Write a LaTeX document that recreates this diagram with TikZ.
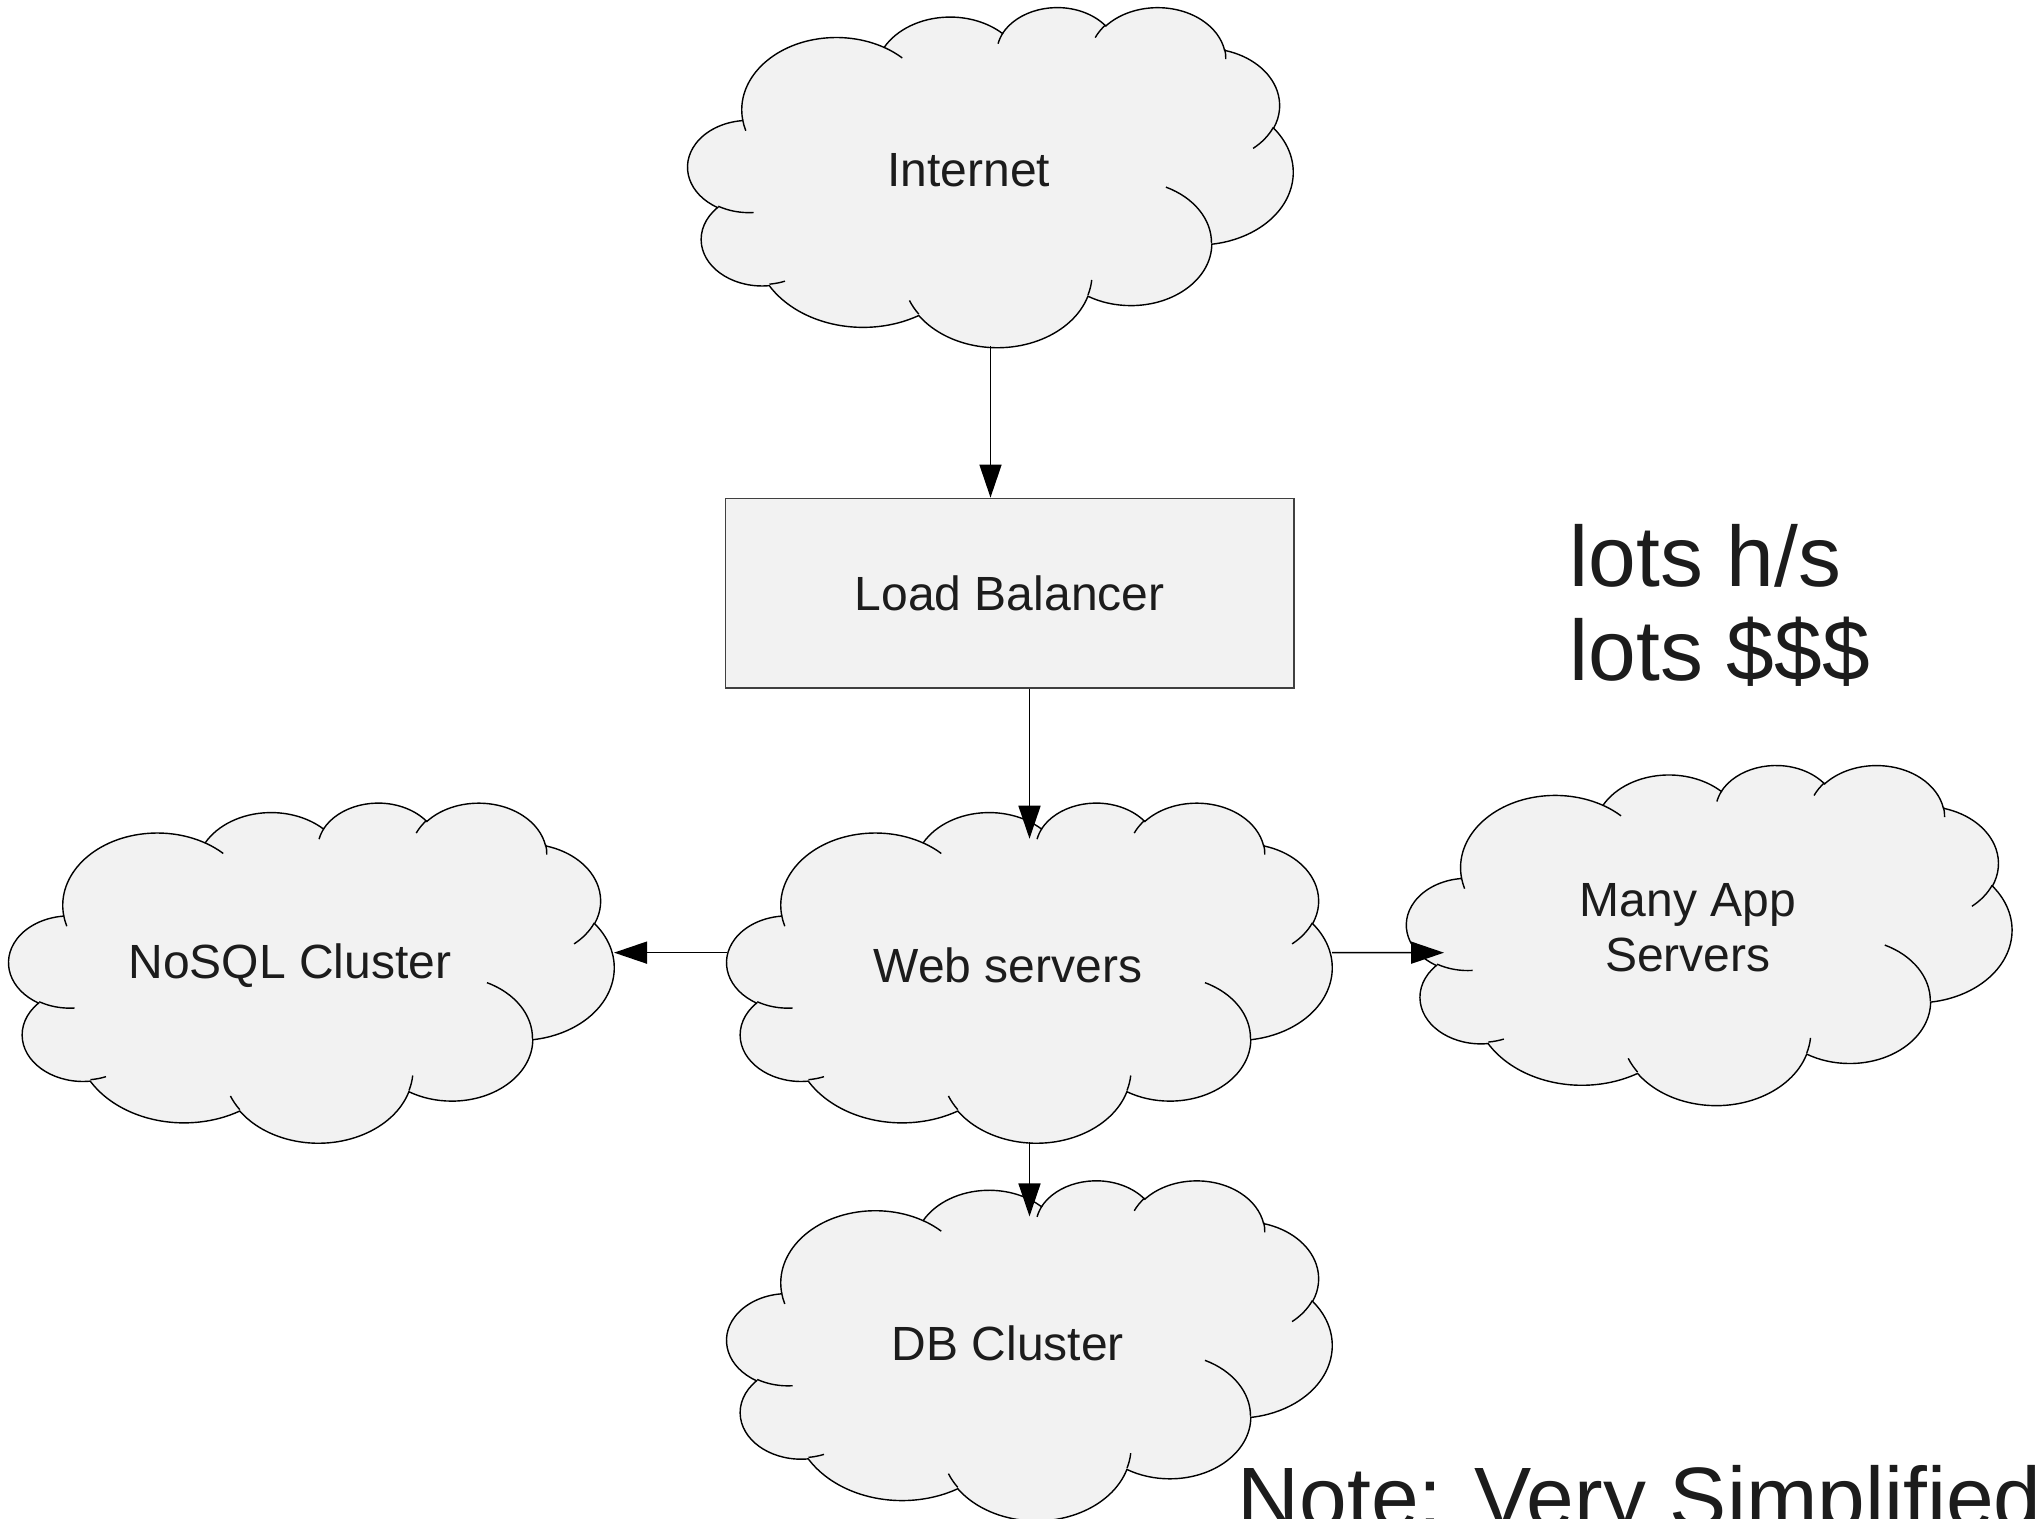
\documentclass[tikz,border=0pt]{standalone}
\usepackage{fontspec}
\setmainfont{Liberation Sans}
\usetikzlibrary{arrows.meta}

\definecolor{shapefill}{HTML}{F2F2F2}
\definecolor{inktext}{HTML}{1C1C1C}

% office clouds give visual angles, pgf arcs want parametric ones
\newcommand\cloudangles[6]{%
  \pgfmathsetmacro\cas{atan2(#3*sin(#5),#4*cos(#5))}%
  \pgfmathsetmacro\cae{atan2(#3*sin(#5+#6),#4*cos(#5+#6))}%
  \pgfmathsetmacro\cad{\cae-\cas}%
  \pgfmathsetmacro\cad{\cad+360*(\cad<0)}%
  \xdef#1{\cas}\xdef#2{\cad}}

\cloudangles\cAs\cAd{6.753}{9.190}{-190.48748}{123.78053}
\cloudangles\cBs\cBd{5.333}{7.267}{-144.10238}{89.94523}
\cloudangles\cCs\cCd{4.365}{5.945}{-145.80792}{99.72302}
\cloudangles\cDs\cDd{4.857}{6.595}{-130.98607}{117.24173}
\cloudangles\cEs\cEd{5.333}{7.273}{-78.70888}{109.02692}
\cloudangles\cFs\cFd{6.775}{9.220}{-46.26725}{130.269}
\cloudangles\cGs\cGd{5.785}{7.867}{0.62502}{114.03333}
\cloudangles\cHs\cHd{6.752}{9.215}{22.4516}{115.17255}
\cloudangles\cIs\cId{7.720}{10.543}{66.24263}{75.71102}
\cloudangles\cJs\cJd{4.360}{5.918}{-274.94208}{146.73557}
\cloudangles\cKs\cKd{4.345}{5.945}{-246.8285}{152.51885}

\tikzset{
  cloudline/.style={draw=black, line width=0.4pt},
  cloud/.pic={
    \begin{scope}[x={(0.140046cm,0)}, y={(0,-0.078704cm)}]
      \filldraw[cloudline, fill=shapefill] (3.9,14.37)
        arc[start angle=\cAs, delta angle=\cAd, x radius=6.753, y radius=9.190]
        arc[start angle=\cBs, delta angle=\cBd, x radius=5.333, y radius=7.267]
        arc[start angle=\cCs, delta angle=\cCd, x radius=4.365, y radius=5.945]
        arc[start angle=\cDs, delta angle=\cDd, x radius=4.857, y radius=6.595]
        arc[start angle=\cEs, delta angle=\cEd, x radius=5.333, y radius=7.273]
        arc[start angle=\cFs, delta angle=\cFd, x radius=6.775, y radius=9.220]
        arc[start angle=\cGs, delta angle=\cGd, x radius=5.785, y radius=7.867]
        arc[start angle=\cHs, delta angle=\cHd, x radius=6.752, y radius=9.215]
        arc[start angle=\cIs, delta angle=\cId, x radius=7.720, y radius=10.543]
        arc[start angle=\cJs, delta angle=\cJd, x radius=4.360, y radius=5.918]
        arc[start angle=\cKs, delta angle=\cKd, x radius=4.345, y radius=5.945] -- cycle;
      % the little inner curls
      \foreach \px/\py/\rx/\ry/\st/\sw in {
          4.693/26.177/4.345/5.945/86.742/26.4295,
          6.928/34.899/4.360/5.918/73.61047/11.44747,
          16.478/39.090/6.752/9.215/137.62415/14.0811,
          28.827/34.751/6.752/9.215/6.45327/15.99835,
          34.129/22.954/5.785/7.867/-70.29235/70.91737,
          41.798/15.354/5.333/7.273/30.31803/27.7515,
          38.324/5.426/4.857/6.595/-13.74433/14.8589,
          29.078/3.952/4.857/6.595/-149.18145/18.19537,
          22.141/4.720/4.365/5.945/-163.49427/17.68635,
          14.000/5.192/6.753/9.190/-66.70695/12.31935,
          4.127/15.789/6.753/9.190/157.65435/11.85817}{
        \cloudangles\tailS\tailD{\rx}{\ry}{\st}{\sw}
        \draw[cloudline] (\px,\py) arc[start angle=\tailS, delta angle=\tailD, x radius=\rx, y radius=\ry];
      }
      \coordinate (-top) at (21.6,4.67);
      \coordinate (-bot) at (21.6,43.2);
      \coordinate (-left) at (0,19.14);
      \coordinate (-right) at (43.2,19.14);
      \node[align=center] (-txt) at (20.06,20.8) {#1};
    \end{scope}
  }
}

\begin{document}
\begin{tikzpicture}[
    font=\fontsize{13.66}{15.6}\selectfont, text=inktext,
    conn/.style={draw=black, line width=0.45pt, -{Triangle[width=0.22cm,length=0.33cm]}},
    box/.style={draw=black!75, line width=0.45pt, fill=shapefill, minimum width=5.684cm, minimum height=1.894cm, inner sep=0pt},
    bigtext/.style={font=\fontsize{24.4}{27}\selectfont, inner sep=0pt}
  ]
  \useasboundingbox (0,0) rectangle (20.35,15.18);

  \pic (inet) at (6.88,15.115) {cloud=Internet};
  \node[box] (lb) at (10.097,9.249) {Load Balancer};
  \pic (web) at (7.27,7.16) {cloud=Web servers};
  \pic (nosql) at (0.09,7.16) {cloud=NoSQL Cluster};
  \pic (app) at (14.068,7.536) {cloud={Many App\\Servers}};
  \pic (db) at (7.27,3.383) {cloud=DB Cluster};
  \coordinate (apptip) at (14.44,5.653);

  \node[bigtext, anchor=base west, align=left] (lots) at (15.69,8.37) {lots h/s\\lots \$\$\$};
  \node[bigtext, anchor=base west] (note) at (12.37,-0.09) {Note: Very Simplified};

  \draw[conn] (inet-bot) -- (inet-bot |- lb.north);
  \draw[conn] (lb.south -| web-top) -- (web-top);
  \draw[conn] (web-left) -- (nosql-right);
  \draw[conn] (web-right) -- (apptip);
  \draw[conn] (web-bot) -- (db-top);
\end{tikzpicture}
\end{document}
